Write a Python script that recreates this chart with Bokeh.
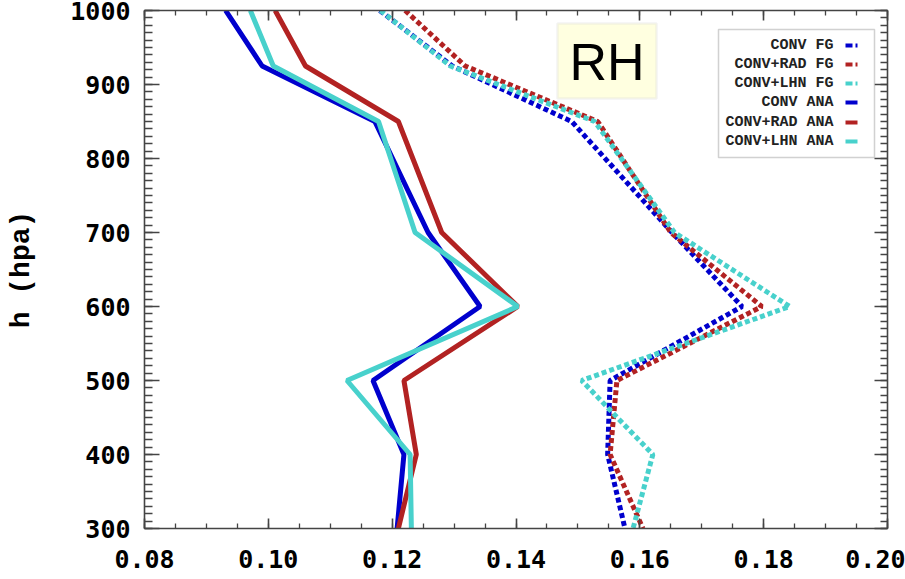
from bokeh.plotting import figure
from bokeh.models import LinearAxis, FixedTicker, Range1d, BoxAnnotation, Label
from bokeh.embed import file_html
from bokeh.resources import INLINE

# ---------------- data ----------------
levels = [1000, 925, 850, 700, 600, 500, 400, 300]

conv_fg = [0.1180, 0.1297, 0.1490, 0.1652, 0.1765, 0.1552, 0.1548, 0.1576]
rad_fg = [0.1221, 0.1318, 0.1532, 0.1650, 0.1797, 0.1563, 0.1552, 0.1605]
lhn_fg = [0.1181, 0.1294, 0.1527, 0.1656, 0.1842, 0.1506, 0.1621, 0.1589]

conv_ana = [0.0931, 0.0990, 0.1172, 0.1258, 0.1342, 0.1169, 0.1219, 0.1208]
rad_ana = [0.1011, 0.1060, 0.1210, 0.1280, 0.1403, 0.1219, 0.1239, 0.1210]
lhn_ana = [0.0971, 0.1008, 0.1178, 0.1237, 0.1403, 0.1127, 0.1229, 0.1231]

series_names = ["CONV FG", "CONV+RAD FG", "CONV+LHN FG",
                "CONV ANA", "CONV+RAD ANA", "CONV+LHN ANA"]
series_values = [conv_fg, rad_fg, lhn_fg, conv_ana, rad_ana, lhn_ana]
series_colors = ["#0000CD", "#B22222", "#48D1CC", "#0000CD", "#B22222", "#48D1CC"]
series_dashed = [True, True, True, False, False, False]

x_ticks = [0.08, 0.10, 0.12, 0.14, 0.16, 0.18, 0.20]
x_tick_labels = ["0.08", "0.10", "0.12", "0.14", "0.16", "0.18", "0.20"]
y_ticks = [300, 400, 500, 600, 700, 800, 900, 1000]
y_tick_labels = ["300", "400", "500", "600", "700", "800", "900", "1000"]
x_minor = [round(0.08 + 0.005 * i, 3) for i in range(25)]
y_minor = [300 + 10 * i for i in range(71)]

X0, X1 = 0.08, 0.20
Y0, Y1 = 300, 1000

# ---------------- figure ----------------
p = figure(width=905, height=579, output_backend="svg", toolbar_location=None,
           x_range=Range1d(X0, X1), y_range=Range1d(Y0, Y1),
           x_axis_location=None, y_axis_location=None,
           min_border_left=144, min_border_right=18,
           min_border_top=10, min_border_bottom=51)
p.grid.visible = False
p.outline_line_color = None
p.background_fill_color = "white"
p.border_fill_color = "white"

AX_COLOR = "#444444"


def make_axis(ticks, minor, labels, show_labels, major_in, minor_in):
    ax = LinearAxis(ticker=FixedTicker(ticks=ticks, minor_ticks=minor))
    ax.axis_line_color = AX_COLOR
    ax.axis_line_width = 1.6
    ax.major_tick_line_color = AX_COLOR
    ax.minor_tick_line_color = AX_COLOR
    ax.major_tick_line_width = 1.6
    ax.minor_tick_line_width = 1.3
    ax.major_tick_in = major_in
    ax.major_tick_out = 0
    ax.minor_tick_in = minor_in
    ax.minor_tick_out = 0
    if show_labels:
        ax.major_label_overrides = {t: l for t, l in zip(ticks, labels)}
        ax.major_label_text_font = "DejaVu Sans Mono"
        ax.major_label_text_font_style = "bold"
        ax.major_label_text_font_size = "25px"
        ax.major_label_text_color = "black"
    else:
        ax.major_label_text_font_size = "0px"
        ax.major_label_text_alpha = 0
        ax.major_label_standoff = 0
    return ax


xb = make_axis(x_ticks, x_minor, x_tick_labels, True, 10, 5)
xb.major_label_standoff = 21
p.add_layout(xb, "below")

yl = make_axis(y_ticks, y_minor, y_tick_labels, True, 15, 8)
yl.major_label_standoff = 14
yl.axis_label = "h (hpa)"
yl.axis_label_text_font = "Liberation Mono"
yl.axis_label_text_font_style = "bold"
yl.axis_label_text_font_size = "28px"
yl.axis_label_text_color = "black"
yl.axis_label_standoff = 30
p.add_layout(yl, "left")

p.add_layout(make_axis(x_ticks, x_minor, x_tick_labels, False, 10, 5), "above")
p.add_layout(make_axis(y_ticks, y_minor, y_tick_labels, False, 13, 7), "right")

# ---------------- lines ----------------
for vals, col, dashed in zip(series_values, series_colors, series_dashed):
    if dashed:
        p.line(vals, levels, line_color=col, line_width=5, line_dash="5 3")
    else:
        p.line(vals, levels, line_color=col, line_width=5)

# ---------------- annotations (pixel-based placement inside the frame) ----------------
FL, FR, FT, FB = 144.0, 887.0, 10.0, 528.0   # frame edges in page pixels


def fx(px):
    return X0 + (px - FL) / (FR - FL) * (X1 - X0)


def fy(py):
    return Y1 - (py - FT) / (FB - FT) * (Y1 - Y0)


# RH box
p.add_layout(BoxAnnotation(left=fx(557), right=fx(656), top=fy(23), bottom=fy(98),
                           fill_color="#FFFFE0", fill_alpha=1.0,
                           line_color="#D6D6D6", line_width=2.5, level="annotation"))
p.add_layout(Label(x=fx(606.5), y=fy(61), text="RH", text_align="center",
                   text_baseline="middle", text_font="Liberation Sans",
                   text_font_size="52px", text_color="black"))

# legend box
p.add_layout(BoxAnnotation(left=fx(718), right=fx(874), top=fy(29), bottom=fy(157),
                           fill_color="white", fill_alpha=1.0,
                           line_color="#666666", line_width=1.5, level="annotation"))
row_y = [45, 64, 83, 102, 122, 141]
for name, col, dashed, ry in zip(series_names, series_colors, series_dashed, row_y):
    p.add_layout(Label(x=fx(833), y=fy(ry), text=name,
                       text_align="right", text_baseline="middle",
                       text_font="Liberation Mono", text_font_style="bold",
                       text_font_size="15px", text_color="#222222"))
    if dashed:
        p.add_layout(BoxAnnotation(left=fx(845), right=fx(852), top=fy(ry - 2), bottom=fy(ry + 2),
                                   fill_color=col, fill_alpha=1.0, line_color=None))
        p.add_layout(BoxAnnotation(left=fx(855), right=fx(857), top=fy(ry - 2), bottom=fy(ry + 2),
                                   fill_color=col, fill_alpha=1.0, line_color=None))
    else:
        p.add_layout(BoxAnnotation(left=fx(845), right=fx(857), top=fy(ry - 2), bottom=fy(ry + 2),
                                   fill_color=col, fill_alpha=1.0, line_color=None))

open("out.html", "w").write(file_html(p, INLINE))
